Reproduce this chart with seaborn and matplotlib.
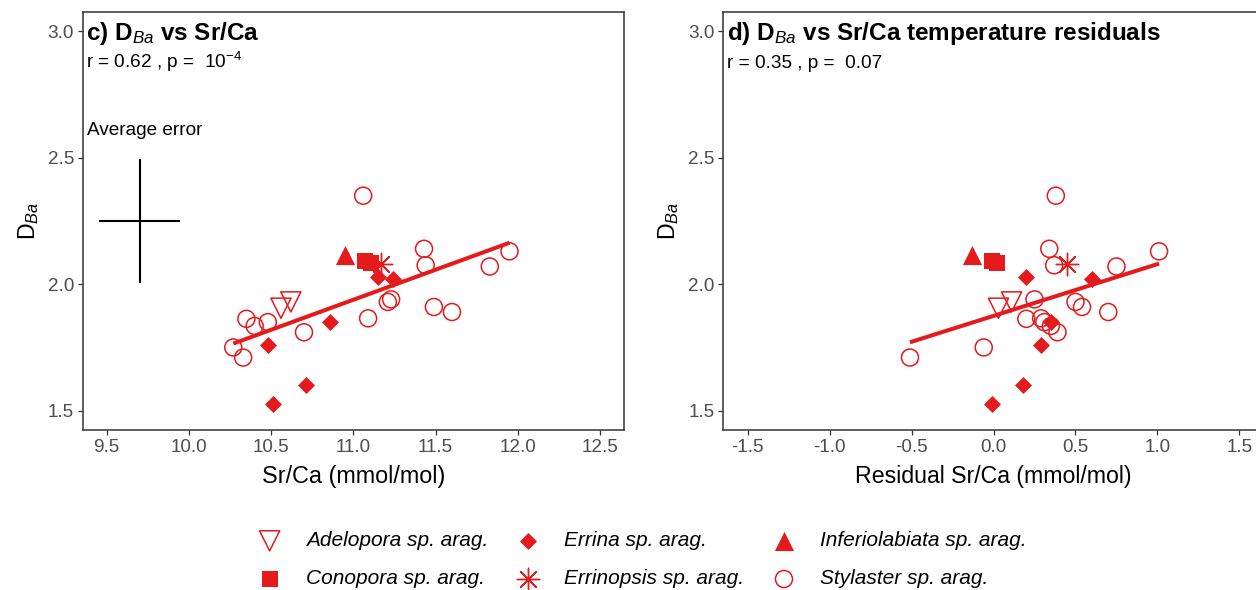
import numpy as np
import pandas as pd
import matplotlib
matplotlib.use('Agg')
import matplotlib.pyplot as plt
import seaborn as sns

sns.set_style('ticks')
plt.rcParams['font.family'] = ['Liberation Sans', 'DejaVu Sans']
plt.rcParams['mathtext.fontset'] = 'custom'
plt.rcParams['mathtext.rm'] = 'Liberation Sans'
plt.rcParams['mathtext.it'] = 'Liberation Sans:italic'
plt.rcParams['mathtext.bf'] = 'Liberation Sans:bold'
plt.rcParams['text.color'] = 'black'
plt.rcParams['axes.labelcolor'] = 'black'

RED = '#E41A1C'

# ---- data ----
species = ['Adelopora sp. arag.', 'Conopora sp. arag.', 'Errina sp. arag.',
           'Errinopsis sp. arag.', 'Inferiolabiata sp. arag.', 'Stylaster sp. arag.']

adelopora_srca = [10.56, 10.62]
adelopora_resid = [0.03, 0.11]
adelopora_dba = [1.905, 1.93]

conopora_srca = [11.07, 11.11]
conopora_resid = [-0.01, 0.02]
conopora_dba = [2.09, 2.085]

errina_srca = [11.15, 11.24, 10.86, 10.48, 10.71, 10.51]
errina_resid = [0.20, 0.60, 0.35, 0.29, 0.18, -0.01]
errina_dba = [2.03, 2.02, 1.85, 1.76, 1.60, 1.525]

errinopsis_srca = [11.17]
errinopsis_resid = [0.45]
errinopsis_dba = [2.08]

inferiolabiata_srca = [10.95]
inferiolabiata_resid = [-0.13]
inferiolabiata_dba = [2.115]

stylaster_srca = [11.06, 11.43, 11.95, 11.44, 11.83, 11.23, 11.21, 11.49,
                  11.60, 11.09, 10.35, 10.48, 10.40, 10.70, 10.27, 10.33]
stylaster_resid = [0.38, 0.34, 1.01, 0.37, 0.75, 0.25, 0.50, 0.54,
                   0.70, 0.29, 0.20, 0.31, 0.35, 0.39, -0.06, -0.51]
stylaster_dba = [2.35, 2.14, 2.13, 2.075, 2.07, 1.94, 1.93, 1.91,
                 1.89, 1.865, 1.863, 1.85, 1.835, 1.81, 1.75, 1.71]

# average error cross (panel c)
err_x = [9.70]
err_y = [2.25]
err_dx = [0.245]
err_dy = [0.245]

frames = []
for sp, sr, rs, db in [
        (species[0], adelopora_srca, adelopora_resid, adelopora_dba),
        (species[1], conopora_srca, conopora_resid, conopora_dba),
        (species[2], errina_srca, errina_resid, errina_dba),
        (species[3], errinopsis_srca, errinopsis_resid, errinopsis_dba),
        (species[4], inferiolabiata_srca, inferiolabiata_resid, inferiolabiata_dba),
        (species[5], stylaster_srca, stylaster_resid, stylaster_dba)]:
    frames.append(pd.DataFrame({'species': sp, 'srca': sr, 'resid': rs, 'dba': db}))
df = pd.concat(frames, ignore_index=True)

# marker styles per species
styles = {
    'Adelopora sp. arag.': dict(marker='v', s=210, facecolor='none', edgecolor=RED, linewidth=1.1),
    'Conopora sp. arag.': dict(marker='s', s=140, color=RED, edgecolor=RED, linewidth=0),
    'Errina sp. arag.': dict(marker='D', s=75, color=RED, edgecolor=RED, linewidth=0),
    'Errinopsis sp. arag.': dict(marker=(8, 2, 0), s=260, color=RED, linewidth=1.0),
    'Inferiolabiata sp. arag.': dict(marker='^', s=190, color=RED, edgecolor=RED, linewidth=0),
    'Stylaster sp. arag.': dict(marker='o', s=150, facecolor='none', edgecolor=RED, linewidth=1.1),
}

fig = plt.figure(figsize=(12.56, 5.9), dpi=100)
ax_c = fig.add_axes([0.0658, 0.2712, 0.431, 0.7085])
ax_d = fig.add_axes([0.5759, 0.2712, 0.4303, 0.7085])


def style_axis(ax):
    for sp in ax.spines.values():
        sp.set_visible(True)
        sp.set_color('#333333')
        sp.set_linewidth(1.1)
    ax.tick_params(axis='both', direction='out', length=3.8, width=0.9,
                   color='#333333', labelcolor='#4D4D4D', labelsize=13.6, pad=2.5)
    ax.set_ylim(1.4235, 3.0765)
    ax.set_yticks([1.5, 2.0, 2.5, 3.0])
    ax.set_yticklabels(['1.5', '2.0', '2.5', '3.0'])
    ax.set_ylabel(r'D$_{Ba}$', fontsize=16.7, labelpad=5)


for ax, xcol in [(ax_c, 'srca'), (ax_d, 'resid')]:
    sns.regplot(data=df, x=xcol, y='dba', scatter=False, ci=None, ax=ax,
                color=RED, line_kws={'linewidth': 2.9, 'solid_capstyle': 'butt'})
    for sp in species:
        sub = df[df['species'] == sp]
        sns.scatterplot(data=sub, x=xcol, y='dba', ax=ax, label=sp, zorder=3,
                        **styles[sp])
    style_axis(ax)

# panel c
ax_c.set_xlim(9.354, 12.646)
ax_c.set_xticks([9.5, 10.0, 10.5, 11.0, 11.5, 12.0, 12.5])
ax_c.set_xticklabels(['9.5', '10.0', '10.5', '11.0', '11.5', '12.0', '12.5'])
ax_c.set_xlabel('Sr/Ca (mmol/mol)', fontsize=16.8, labelpad=7)
ax_c.errorbar(err_x, err_y, xerr=err_dx, yerr=err_dy, fmt='none',
              ecolor='black', elinewidth=1.5, capsize=0)
ax_c.text(0.0065, 0.933, r'c) D$_{Ba}$ vs Sr/Ca', transform=ax_c.transAxes,
          fontsize=17.5, fontweight='bold', va='baseline')
ax_c.text(0.0065, 0.867, r'r = 0.62 , p =  10$^{-4}$', transform=ax_c.transAxes,
          fontsize=13.7, va='baseline')
ax_c.text(0.0075, 0.706, 'Average error', transform=ax_c.transAxes,
          fontsize=13.7, va='baseline')

# panel d
ax_d.set_xlim(-1.649, 1.649)
ax_d.set_xticks([-1.5, -1.0, -0.5, 0.0, 0.5, 1.0, 1.5])
ax_d.set_xticklabels(['-1.5', '-1.0', '-0.5', '0.0', '0.5', '1.0', '1.5'])
ax_d.set_xlabel('Residual Sr/Ca (mmol/mol)', fontsize=16.7, labelpad=7)
ax_d.text(0.0065, 0.933, r'd) D$_{Ba}$ vs Sr/Ca temperature residuals',
          transform=ax_d.transAxes, fontsize=17.5, fontweight='bold', va='baseline')
ax_d.text(0.0065, 0.867, 'r = 0.35 , p =  0.07', transform=ax_d.transAxes,
          fontsize=13.7, va='baseline')

# shared legend at the bottom
handles, labels = ax_c.get_legend_handles_labels()
ax_c.get_legend().remove()
ax_d.get_legend().remove()
leg = fig.legend(handles, labels, ncol=3, loc='center', bbox_to_anchor=(0.512, 0.051),
                 frameon=False, scatterpoints=1, handlelength=1.0, handletextpad=1.25,
                 columnspacing=1.4, labelspacing=0.92, prop={'size': 15, 'style': 'italic'})

fig.savefig('out.png', dpi=100)
